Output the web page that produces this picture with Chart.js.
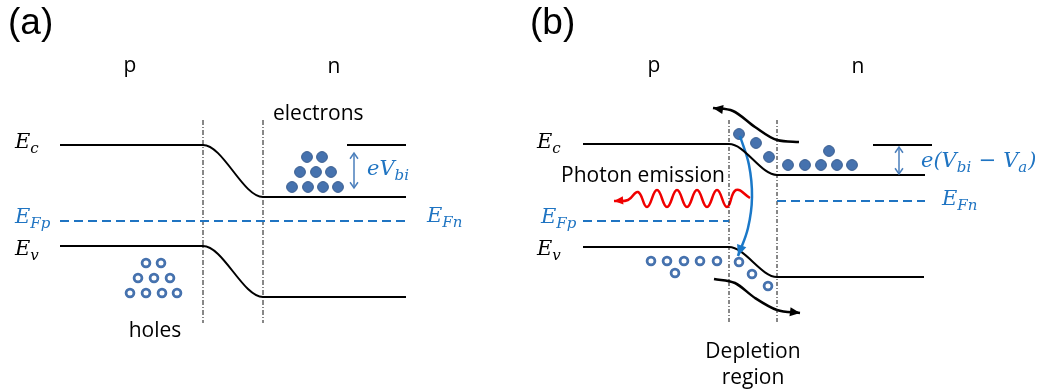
<!DOCTYPE html>
<html>
<head>
<meta charset="utf-8">
<script src="https://cdn.jsdelivr.net/npm/chart.js@4.4.1/dist/chart.umd.min.js"></script>
<style>
  html, body { margin: 0; padding: 0; background: #fff; }
  #wrap { width: 1038px; height: 391px; }
</style>
</head>
<body>
<div id="wrap"><canvas id="bands" width="1038" height="391"></canvas></div>
<script>
// picture units: x to the right, y downwards (0..1038 x 0..391)

// (a) p-n junction at equilibrium
const ecAX = [60, 203, 263, 406];
const ecAY = [145, 145, 197, 197];
const evAX = [60, 203, 263, 406];
const evAY = [246, 246, 297, 297];
const efAX = [60, 406];
const efAY = [221, 221];
const ecRefAX = [347, 406];
const ecRefAY = [145, 145];
const vbiAX = [354, 354];
const vbiAY = [153, 188];
const junctionAX = [203, 263];
const electronsAX = [307, 322, 300, 316, 331, 292, 308, 323, 338];
const electronsAY = [157, 157, 172, 172, 172, 187, 187, 187, 187];
const holesAX = [146, 161, 138, 154, 170, 130, 146, 162, 177];
const holesAY = [263, 263, 278, 278, 278, 293, 293, 293, 293];

// (b) forward bias
const ecBX = [583, 729, 777, 925];
const ecBY = [144, 144, 175, 175];
const evBX = [583, 729, 777, 924];
const evBY = [247, 247, 277, 277];
const efpBX = [583, 729];
const efpBY = [221, 221];
const efnBX = [777, 925];
const efnBY = [201, 201];
const ecRefBX = [873, 932];
const ecRefBY = [145, 145];
const vbiBX = [899, 899];
const vbiBY = [147, 174];
const junctionBX = [729, 777];
const electronsBX = [739, 756, 769, 788, 805, 821, 837, 852, 829];
const electronsBY = [134, 143, 157, 165, 165, 165, 165, 165, 151];
const holesBX = [651, 667, 684, 700, 717, 675, 739, 752, 768];
const holesBY = [261, 261, 261, 261, 261, 273, 262, 274, 286];
const electronFlowX = [713, 733, 755, 777, 799];
const electronFlowY = [108, 111, 127, 140, 142];
const holeFlowX = [714, 735, 755, 777, 800];
const holeFlowY = [279, 283, 298, 310, 313];
const recombX = [740, 749, 752, 748, 738];
const recombY = [136, 165, 197, 228, 256];
const photonX = [750, 736, 727, 717, 707, 697, 687, 677, 667, 657, 647, 638, 628, 614];
const photonY = [198, 190, 207, 190, 207, 190, 207, 190, 207, 190, 207, 192, 200, 201];

const DEPTH_TOP = 120;
const DEPTH_BOTTOM = 323;

const BLUE = "#1f74c2";
const ARROW_BLUE = "#4a7ebb";
const CARRIER = "#4672ae";
const CARRIER_EDGE = "#3a5d8f";

function pts(xs, ys) {
  return xs.map((x, i) => ({ x, y: ys[i] }));
}

function band(xs, ys, extra) {
  return Object.assign(
    {
      data: pts(xs, ys),
      borderColor: "#000",
      borderWidth: 2,
      pointRadius: 0,
      fill: false,
      cubicInterpolationMode: "monotone",
    },
    extra
  );
}

function dashed(xs, ys) {
  return band(xs, ys, { borderColor: BLUE, borderDash: [9, 5], borderWidth: 2 });
}

function junction(x, dash) {
  return band([x, x], [DEPTH_TOP, DEPTH_BOTTOM], {
    borderColor: "#111",
    borderWidth: 1,
    borderDash: dash,
    cubicInterpolationMode: "default",
  });
}

function electrons(xs, ys) {
  return {
    data: pts(xs, ys),
    showLine: false,
    pointRadius: 5.4,
    pointBackgroundColor: CARRIER,
    pointBorderColor: CARRIER_EDGE,
    pointBorderWidth: 1,
  };
}

function holes(xs, ys) {
  return {
    data: pts(xs, ys),
    showLine: false,
    pointRadius: 3.9,
    pointBackgroundColor: "#fff",
    pointBorderColor: CARRIER,
    pointBorderWidth: 2.8,
  };
}

const datasets = [
  band(ecAX, ecAY),
  band(evAX, evAY),
  band(ecRefAX, ecRefAY),
  dashed(efAX, efAY),
  ...junctionAX.map((x) => junction(x, [5, 2, 1, 2])),
  band(vbiAX, vbiAY, { borderColor: ARROW_BLUE, borderWidth: 1.5, arrow: "both", headOpen: true, headSize: 7 }),
  electrons(electronsAX, electronsAY),
  holes(holesAX, holesAY),

  band(ecBX, ecBY),
  band(evBX, evBY),
  band(ecRefBX, ecRefBY),
  dashed(efpBX, efpBY),
  dashed(efnBX, efnBY),
  ...junctionBX.map((x) => junction(x, [4, 2, 1, 2])),
  band(vbiBX, vbiBY, { borderColor: ARROW_BLUE, borderWidth: 1.5, arrow: "both", headOpen: true, headSize: 7 }),
  band(electronFlowX, electronFlowY, { borderWidth: 2.5, arrow: "start", headSize: 11 }),
  band(holeFlowX, holeFlowY, { borderWidth: 2.5, arrow: "end", headSize: 11 }),
  band(photonX, photonY, { borderColor: "#f00000", borderWidth: 2.5, cubicInterpolationMode: "default", tension: 0.45, arrow: "end", headSize: 10 }),
  band(recombX, recombY, { borderColor: "#1a78c8", borderWidth: 2.5, cubicInterpolationMode: "default", tension: 0.4, arrow: "end", headSize: 12 }),
  electrons(electronsBX, electronsBY),
  holes(holesBX, holesBY),
];

// plain labels
const notes = [
  { text: "(a)", x: 8, y: 34, font: "37px 'Liberation Sans'", align: "left" },
  { text: "(b)", x: 530, y: 34, font: "37px 'Liberation Sans'", align: "left" },
  { text: "p", x: 130, y: 72 },
  { text: "n", x: 334, y: 73 },
  { text: "p", x: 654, y: 72 },
  { text: "n", x: 858, y: 73 },
  { text: "electrons", x: 273, y: 120, align: "left" },
  { text: "holes", x: 155, y: 337 },
  { text: "Photon emission", x: 561, y: 182, align: "left" },
  { text: "Depletion", x: 753, y: 358 },
  { text: "region", x: 753, y: 384 },
];

// math labels: parts with optional subscript
const mathNotes = [
  { x: 15, y: 148, color: "#000", parts: [["E"], ["c", 1]] },
  { x: 15, y: 223, color: BLUE, parts: [["E"], ["Fp", 1]] },
  { x: 15, y: 255, color: "#000", parts: [["E"], ["v", 1]] },
  { x: 427, y: 222, color: BLUE, parts: [["E"], ["Fn", 1]] },
  { x: 367, y: 175, color: BLUE, parts: [["eV"], ["bi", 1]] },
  { x: 537, y: 148, color: "#000", parts: [["E"], ["c", 1]] },
  { x: 541, y: 223, color: BLUE, parts: [["E"], ["Fp", 1]] },
  { x: 537, y: 255, color: "#000", parts: [["E"], ["v", 1]] },
  { x: 942, y: 205, color: BLUE, parts: [["E"], ["Fn", 1]] },
  { x: 921, y: 167, color: BLUE, parts: [["e(V"], ["bi", 1], [" \u2212 V"], ["a", 1], [")"]] },
];

function drawHead(ctx, x, y, ang, size, color, open) {
  const spread = open ? 0.6 : 0.42;
  ctx.save();
  ctx.strokeStyle = color;
  ctx.fillStyle = color;
  ctx.lineWidth = 1.5;
  ctx.beginPath();
  ctx.moveTo(x - size * Math.cos(ang - spread), y - size * Math.sin(ang - spread));
  ctx.lineTo(x, y);
  ctx.lineTo(x - size * Math.cos(ang + spread), y - size * Math.sin(ang + spread));
  if (open) {
    ctx.stroke();
  } else {
    ctx.closePath();
    ctx.fill();
  }
  ctx.restore();
}

const arrowHeads = {
  id: "arrowHeads",
  afterDatasetsDraw(chart) {
    const ctx = chart.ctx;
    chart.data.datasets.forEach((ds, i) => {
      if (!ds.arrow) return;
      const el = chart.getDatasetMeta(i).data;
      const ends = ds.arrow === "both" ? ["start", "end"] : [ds.arrow];
      ends.forEach((end) => {
        const tip = end === "end" ? el[el.length - 1] : el[0];
        const prev = end === "end" ? el[el.length - 2] : el[1];
        const ang = Math.atan2(tip.y - prev.y, tip.x - prev.x);
        drawHead(ctx, tip.x, tip.y, ang, ds.headSize, ds.borderColor, ds.headOpen);
      });
    });
  },
};

const labels = {
  id: "labels",
  afterDraw(chart) {
    const ctx = chart.ctx;
    const sx = chart.scales.x;
    const sy = chart.scales.y;
    ctx.save();
    ctx.textBaseline = "alphabetic";
    for (const n of notes) {
      ctx.font = n.font || "21px 'Open Sans'";
      ctx.fillStyle = "#000";
      ctx.textAlign = n.align || "center";
      ctx.fillText(n.text, sx.getPixelForValue(n.x), sy.getPixelForValue(n.y));
    }
    ctx.textAlign = "left";
    for (const m of mathNotes) {
      let x = sx.getPixelForValue(m.x);
      const y = sy.getPixelForValue(m.y);
      ctx.fillStyle = m.color;
      for (const [t, sub] of m.parts) {
        ctx.font = sub ? "italic 15px 'DejaVu Serif'" : "italic 21px 'DejaVu Serif'";
        ctx.fillText(t, x, sub ? y + 5 : y);
        x += ctx.measureText(t).width + (sub ? 1 : 0);
      }
    }
    ctx.restore();
  },
};

new Chart(document.getElementById("bands"), {
  type: "line",
  data: { datasets },
  options: {
    responsive: false,
    animation: false,
    events: [],
    layout: { padding: 0, autoPadding: false },
    scales: {
      x: { type: "linear", min: 0, max: 1038, display: false },
      y: { type: "linear", min: 0, max: 391, reverse: true, display: false },
    },
    plugins: {
      legend: { display: false },
      tooltip: { enabled: false },
    },
  },
  plugins: [arrowHeads, labels],
});
</script>
</body>
</html>
